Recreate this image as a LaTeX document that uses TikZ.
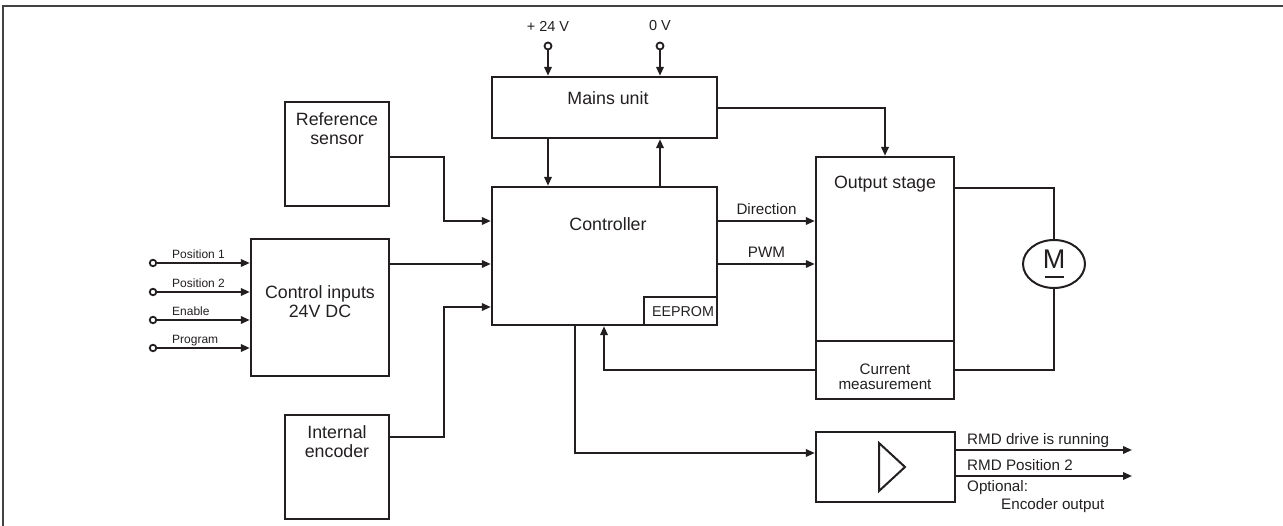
\documentclass[tikz,border=0pt]{standalone}
\usepackage{fontspec}
\setmainfont{Liberation Sans}
\usetikzlibrary{arrows.meta,shapes.geometric,calc}
\definecolor{ink}{HTML}{231F20}
\tikzset{
  box/.style={draw=ink, line width=2.4pt, inner sep=0pt},
  txt/.style={inner sep=0pt, text=ink, align=center},
  arr/.style={draw=ink, line width=2pt, -{Triangle[length=9pt,width=7.5pt]}},
  ln/.style={draw=ink, line width=2pt},
  term/.style={circle, draw=ink, line width=1.8pt, minimum size=7pt, inner sep=0pt, fill=white},
  sig/.style={inner sep=0pt, text=ink, anchor=base west, font=\fontsize{12}{14}\selectfont},
  big/.style={font=\fontsize{17.8}{20}\selectfont},
  mid/.style={font=\fontsize{15.2}{17}\selectfont},
}
\begin{document}
\begin{tikzpicture}[x=1pt,y=-1pt]
\useasboundingbox (0,0) rectangle (1283,526);
% frame
\draw[line width=1.6pt, draw=ink!85] (3,526) -- (3,6) -- (1283,6);

% level coordinates
\coordinate (y1) at (0,221);
\coordinate (y2) at (0,264);
\coordinate (y3) at (0,307);
\coordinate (xp) at (548,0);
\coordinate (xz) at (660,0);
\coordinate (xfb) at (604,0);
\coordinate (xamp) at (575,0);

% boxes
\node[box, minimum width=225pt, minimum height=61pt] (mains) at (604.5,107.5) {};
\node[txt, big] (mainsT) at (608,98) {Mains unit};

\node[box, minimum width=225pt, minimum height=138pt] (ctrl) at (604.5,256) {};
\node[txt, big] (ctrlT) at (608,224) {Controller};
\node[box, line width=2pt, minimum width=73pt, minimum height=28pt] (eeprom) at (680.5,311) {};
\node[txt, font=\fontsize{14.3}{17}\selectfont] (eepromT) at (683,312) {EEPROM};

\node[box, minimum width=104pt, minimum height=104pt] (ref) at (337,154) {};
\node[txt, big, anchor=north] (refT) at (337,112) {Reference\\[-1pt]sensor};

\node[box, minimum width=138pt, minimum height=137pt] (cin) at (320,307.5) {};
\node[txt, big] (cinT) at (320,302) {Control inputs\\[-1pt]24V DC};

\node[box, minimum width=104pt, minimum height=104pt] (enc) at (337,467) {};
\node[txt, big, anchor=north] (encT) at (337,425) {Internal\\[-1pt]encoder};

\node[box, minimum width=138pt, minimum height=184pt] (out) at (885,249) {};
\node[txt, big] (outT) at (885,184) {Output stage};
\node[box, minimum width=138pt, minimum height=58pt] (cur) at (885,370) {};
\node[txt, mid] (curT) at (885,377) {Current\\[-2pt]measurement};

\node[box, minimum width=139pt, minimum height=70pt] (amp) at (885.5,467) {};
\draw[ln] (879,443) -- (905,467) -- (879,491) -- cycle;

\node[ellipse, draw=ink, line width=2pt, minimum width=62pt, minimum height=48pt, inner sep=0pt] (motor) at (1054,264) {};
\node[txt, font=\fontsize{27}{30}\selectfont] (motorT) at (1054,259) {M};
\draw[ln] (1045,277) -- (1064,277);

% power terminals
\node[term] (p24) at (548,46) {};
\node[term] (p0) at (660,46) {};
\node[txt, font=\fontsize{14.5}{16}\selectfont] (p24T) at (548,26) {+ 24 V};
\node[txt, font=\fontsize{14.5}{16}\selectfont] (p0T) at (660,26) {0 V};
\draw[arr] (p24.south) -- (mains.north -| p24);
\draw[arr] (p0.south) -- (mains.north -| p0);

% mains <-> controller
\draw[arr] (mains.south -| xp) -- (ctrl.north -| xp);
\draw[arr] (ctrl.north -| xz) -- (mains.south -| xz);
% mains -> output stage
\draw[arr] ([yshift=-0.5pt]mains.east) -| (out.north);

% inputs to controller
\draw[arr] ([yshift=-3pt]ref.east) -- (444,157) |- (ctrl.west |- y1);
\draw[arr] (cin.east |- y2) -- (ctrl.west |- y2);
\draw[arr] ([yshift=30pt]enc.east) -- (444,437) |- (ctrl.west |- y3);

% controller -> output stage
\draw[arr] (ctrl.east |- y1) -- node[txt, above=5pt, mid] (dirT) {Direction} (out.west |- y1);
\draw[arr] (ctrl.east |- y2) -- node[txt, above=5pt, mid] (pwmT) {PWM} (out.west |- y2);

% feedback
\draw[arr] (cur.west) -| (ctrl.south -| xfb);

% controller -> amplifier
\draw[arr] (ctrl.south -| xamp) |- ([yshift=14pt]amp.west);

% motor
\draw[ln] ([yshift=-32pt]out.north east) -| (motor.north);
\draw[ln] (cur.east) -| (motor.south);

% control input signals
\foreach \n/\y/\t in {a/263/Position 1, b/292/Position 2, c/320/Enable, d/348/Program}{
  \node[term, minimum size=6.5pt] (in\n) at (153,\y) {};
  \draw[arr] (in\n.east) -- (cin.west |- in\n);
  \node[sig] (in\n T) at (172,\y-4) {\t};
}

% outputs
\coordinate (o1) at (1132,450);
\coordinate (o2) at (1132,476);
\draw[arr] ([yshift=17pt]amp.east) -- (o1);
\draw[arr] ([yshift=-9pt]amp.east) -- (o2);
\node[txt, anchor=base west, mid] (r1) at (967,445) {RMD drive is running};
\node[txt, anchor=base west, mid] (r2) at (967,471) {RMD Position 2};
\node[txt, anchor=base west, mid] (r3) at (967,492) {Optional:};
\node[txt, anchor=base west, mid] (r4) at (1001,509) {Encoder output};
\end{tikzpicture}
\end{document}
